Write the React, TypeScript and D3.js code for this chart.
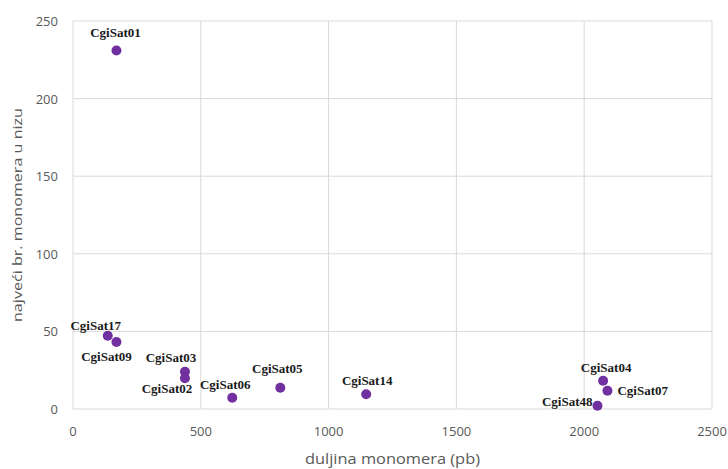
import React from "react";
import * as d3 from "d3";

const names = ["CgiSat01","CgiSat17","CgiSat09","CgiSat03","CgiSat02","CgiSat06","CgiSat05","CgiSat14","CgiSat04","CgiSat07","CgiSat48"];
const lengths = [170, 136, 170, 438, 438, 623, 811, 1147, 2074, 2091, 2052];
const maxMonomers = [231, 47.2, 43.2, 24, 19.8, 7.3, 13.7, 9.5, 18.2, 11.8, 2.1];
const xTicks = [0, 500, 1000, 1500, 2000, 2500];
const yTicks = [0, 50, 100, 150, 200, 250];
const xTitle = "duljina monomera (pb)";
const yTitle = "najveći br. monomera u nizu";

// label placement relative to point: [dx, dy, anchor]
const labelPos: [number, number, string][] = [
  [-1, -13, "middle"],
  [-12, -6, "middle"],
  [-10, 19, "middle"],
  [-14, -10, "middle"],
  [-18, 15, "middle"],
  [-7, -9, "middle"],
  [-3, -15, "middle"],
  [1, -9, "middle"],
  [3, -9, "middle"],
  [10, 4, "start"],
  [-5, 0, "end"],
];

export default function App() {
  const W = 728, H = 469;
  const left = 73, right = 712, top = 21, bottom = 409;
  const x = d3.scaleLinear().domain([0, 2500]).range([left, right]);
  const y = d3.scaleLinear().domain([0, 250]).range([bottom, top]);
  const grey = "#595959";
  const sans = "'Open Sans', 'Liberation Sans', sans-serif";
  return (
    <svg width={W} height={H} style={{ position: "absolute", left: 0, top: 0, background: "#fff" }}>
      {xTicks.map((t) => (
        <line key={"gx" + t} x1={x(t)} x2={x(t)} y1={top} y2={bottom} stroke="#d9d9d9" strokeWidth={1} />
      ))}
      {yTicks.map((t) => (
        <line key={"gy" + t} x1={left} x2={right} y1={y(t)} y2={y(t)} stroke="#d9d9d9" strokeWidth={1} />
      ))}
      {xTicks.map((t) => (
        <text key={"tx" + t} x={x(t)} y={436} textAnchor="middle" fontFamily={sans} fontSize={13} fill={grey}>{t}</text>
      ))}
      {yTicks.map((t) => (
        <text key={"ty" + t} x={58} y={y(t) + 5} textAnchor="end" fontFamily={sans} fontSize={13} fill={grey}>{t}</text>
      ))}
      <text x={(left + right) / 2} y={464} textAnchor="middle" fontFamily={sans} fontSize={15}
        textLength={175} lengthAdjust="spacingAndGlyphs" fill={grey}>{xTitle}</text>
      <text transform={`translate(22,${(top + bottom) / 2}) rotate(-90)`} textAnchor="middle" fontFamily={sans} fontSize={12.5}
        textLength={214} lengthAdjust="spacingAndGlyphs" fill={grey}>{yTitle}</text>
      {names.map((n, i) => (
        <circle key={"p" + n} cx={x(lengths[i])} cy={y(maxMonomers[i])} r={5} fill="#7030A0" />
      ))}
      {names.map((n, i) => {
        const [dx, dy, anchor] = labelPos[i];
        return (
          <text key={"l" + n} x={x(lengths[i]) + dx} y={y(maxMonomers[i]) + dy} textAnchor={anchor as any}
            fontFamily="'Liberation Serif', 'Times New Roman', serif" fontWeight="bold" fontSize={13} fill="#1a1a1a">{n}</text>
        );
      })}
    </svg>
  );
}
